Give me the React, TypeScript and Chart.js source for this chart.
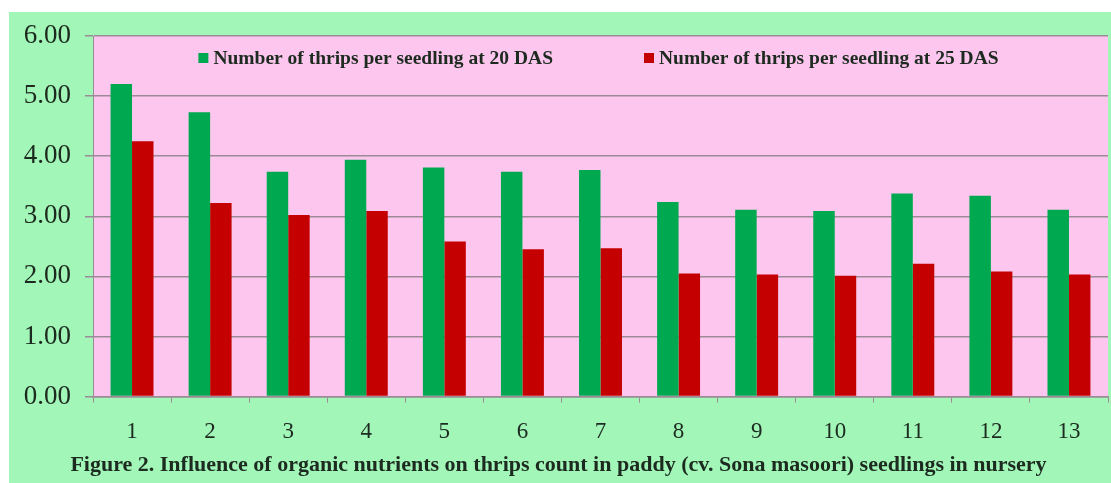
import React, { useEffect, useRef } from "react";
import { Chart, registerables } from "chart.js";

Chart.register(...registerables);

const categories = ["1", "2", "3", "4", "5", "6", "7", "8", "9", "10", "11", "12", "13"];
const thrips20DAS = [5.2, 4.73, 3.74, 3.94, 3.81, 3.74, 3.77, 3.24, 3.11, 3.09, 3.38, 3.34, 3.11];
const thrips25DAS = [4.25, 3.22, 3.02, 3.09, 2.58, 2.45, 2.47, 2.05, 2.03, 2.01, 2.21, 2.08, 2.03];
const seriesLabels = [
  "Number of thrips per seedling at 20 DAS",
  "Number of thrips per seedling at 25 DAS",
];
const titleText =
  "Figure 2. Influence of organic nutrients on thrips count in paddy (cv. Sona masoori) seedlings in nursery";

const SERIF = '"Liberation Serif", "Times New Roman", serif';
const GRID = "#9c8a96";
const TEXT = "#1c2a1f";

const bgPlugin = {
  id: "plotBg",
  beforeDraw(chart: any) {
    const { ctx, chartArea, width, height } = chart;
    ctx.save();
    ctx.fillStyle = "#a1f6b8";
    ctx.fillRect(0, 0, width, height);
    ctx.fillStyle = "#fcc6ee";
    ctx.fillRect(chartArea.left, chartArea.top, chartArea.right - chartArea.left, chartArea.bottom - chartArea.top);
    ctx.restore();
  },
};

const legendPlugin = {
  id: "insideLegend",
  afterDatasetsDraw(chart: any) {
    const { ctx, chartArea } = chart;
    ctx.save();
    ctx.font = `bold 19.5px ${SERIF}`;
    const box = 10;
    const gapText = 5;
    const gapItems = 91;
    const items = chart.data.datasets.map((d: any) => ({ text: d.label, color: d.backgroundColor }));
    const widths = items.map((i: any) => box + gapText + ctx.measureText(i.text).width);
    const total = widths.reduce((a: number, b: number) => a + b, 0) + gapItems * (items.length - 1);
    let x = (chartArea.left + chartArea.right) / 2 - total / 2 - 2;
    const y = chartArea.top + 22;
    ctx.textBaseline = "middle";
    ctx.textAlign = "left";
    items.forEach((it: any, idx: number) => {
      ctx.fillStyle = it.color;
      ctx.fillRect(x, y - box / 2, box, box);
      ctx.fillStyle = TEXT;
      ctx.fillText(it.text, x + box + gapText, y + 1);
      x += widths[idx] + gapItems;
    });
    ctx.restore();
  },
};

export default function App() {
  const ref = useRef<HTMLCanvasElement | null>(null);

  useEffect(() => {
    document.body.style.margin = "0";
    if (!ref.current) return;
    const chart = new Chart(ref.current, {
      type: "bar",
      data: {
        labels: categories,
        datasets: [
          {
            label: seriesLabels[0],
            data: thrips20DAS,
            backgroundColor: "#00a94f",
            categoryPercentage: 0.55,
            barPercentage: 1,
          },
          {
            label: seriesLabels[1],
            data: thrips25DAS,
            backgroundColor: "#c40000",
            categoryPercentage: 0.55,
            barPercentage: 1,
          },
        ],
      },
      options: {
        responsive: false,
        animation: false,
        layout: { padding: { left: 0, top: 24, right: 3, bottom: 0 } },
        plugins: {
          legend: { display: false },
          tooltip: { enabled: false },
          title: {
            display: true,
            position: "bottom",
            text: titleText,
            color: TEXT,
            font: { family: SERIF, size: 22, weight: "bold", lineHeight: 1.2 },
            padding: { top: 0, bottom: 4 },
          },
        },
        scales: {
          x: {
            grid: {
              display: true,
              drawOnChartArea: false,
              drawTicks: true,
              tickLength: 6,
              color: GRID,
              offset: true,
            },
            border: { display: true, color: GRID, width: 1.5 },
            ticks: {
              color: TEXT,
              font: { family: SERIF, size: 23 },
              padding: 16,
              maxRotation: 0,
            },
            afterFit(scale: any) {
              scale.height = 56;
              scale.paddingLeft = 0;
              scale.paddingRight = 0;
            },
          },
          y: {
            min: 0,
            max: 6,
            grid: { color: GRID, lineWidth: 1.5, tickLength: 8, drawTicks: true },
            border: { display: true, color: GRID, width: 1 },
            ticks: {
              stepSize: 1,
              color: TEXT,
              font: { family: SERIF, size: 27 },
              padding: 14,
              callback: (v: any) => Number(v).toFixed(2),
            },
            afterFit(scale: any) {
              scale.width = 84;
              scale.paddingTop = 0;
              scale.paddingBottom = 0;
            },
          },
        },
      },
      plugins: [bgPlugin, legendPlugin],
    });
    return () => chart.destroy();
  }, []);

  return (
    <div style={{ margin: "12px 0 0 9px", width: 1102, height: 471 }}>
      <canvas ref={ref} width={1102} height={471} style={{ display: "block" }} />
    </div>
  );
}
